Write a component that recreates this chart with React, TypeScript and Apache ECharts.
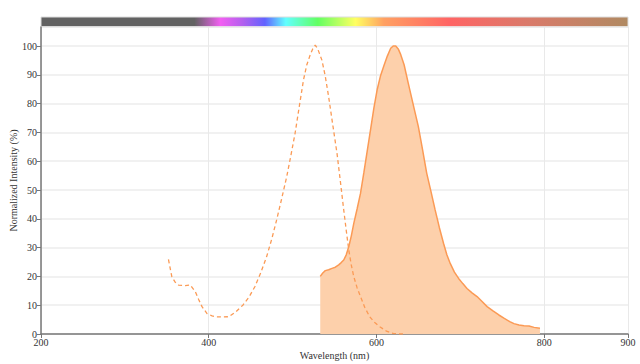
import React, { useEffect, useRef } from "react";
import * as echarts from "echarts";

const exWavelength = [352, 356, 360, 364, 372, 378, 384, 388, 392, 398, 404, 408, 416, 424, 432, 441, 448, 455, 462, 469, 475, 481, 487, 493, 498, 503, 508, 513, 517, 521, 524, 527, 530, 535, 539, 543, 548, 553, 557, 561, 564, 567, 570, 573, 577, 581, 586, 592, 598, 604, 612, 620, 628, 634];
const exValue = [25.9, 19.9, 18.0, 17.0, 16.8, 17.0, 14.7, 12.0, 9.5, 7.1, 6.3, 6.0, 5.9, 6.0, 7.6, 10.1, 12.8, 16.4, 21.2, 26.8, 32.8, 39.6, 47.0, 54.6, 62.0, 69.7, 79.0, 88.2, 93.5, 96.9, 99.0, 100.3, 99.0, 95.1, 89.5, 82.4, 72.5, 62.7, 53.0, 43.1, 36.0, 29.2, 24.0, 19.9, 16.0, 13.0, 9.3, 6.0, 4.0, 2.5, 1.0, 0.2, 0.0, 0.0];

const emWavelength = [533, 536, 539, 543, 547, 551, 555, 558, 561, 564, 567, 570, 573, 577, 581, 585, 589, 593, 597, 601, 605, 609, 613, 617, 620, 623, 626, 629, 633, 638, 644, 650, 655, 660, 665, 670, 675, 680, 684, 688, 693, 698, 703, 708, 714, 720, 726, 732, 739, 746, 752, 759, 764, 770, 776, 782, 788, 795];
const emValue = [20.0, 21.2, 22.0, 22.3, 22.8, 23.2, 24.0, 24.8, 25.7, 27.5, 30.3, 34.0, 38.4, 43.5, 48.8, 56.0, 63.5, 71.0, 78.5, 85.0, 89.8, 93.2, 96.5, 99.2, 100.0, 100.0, 99.0, 97.0, 93.5, 87.0, 79.5, 72.0, 64.0, 55.8, 49.5, 43.1, 37.0, 31.5, 27.5, 24.5, 21.5, 19.3, 17.5, 15.8, 14.3, 13.0, 11.3, 9.5, 8.0, 6.6, 5.5, 4.3, 3.6, 3.1, 2.9, 2.8, 2.3, 2.0];

const xTicks = [200, 400, 600, 800, 900];

const barStops = [
  { nm: 200, color: "#626262" },
  { nm: 383, color: "#626262" },
  { nm: 414, color: "#f25ef2" },
  { nm: 440, color: "#b460ee" },
  { nm: 467, color: "#6262ff" },
  { nm: 492, color: "#62ffff" },
  { nm: 530, color: "#62ff62" },
  { nm: 575, color: "#ffff62" },
  { nm: 609, color: "#ffa062" },
  { nm: 687, color: "#ff6464" },
  { nm: 780, color: "#da7a6a" },
  { nm: 900, color: "#b08a62" },
];

const FONT = "'Liberation Serif', 'Times New Roman', serif";
const FS = 10;

export default function App() {
  const ref = useRef<HTMLDivElement>(null);
  useEffect(() => {
    const chart = echarts.init(ref.current!, null, { renderer: "svg" });
    const left = 41, right = 12, top = 27, bottom = 30;
    const x0 = 200, x1 = 900;
    chart.setOption({
      animation: false,
      textStyle: { fontFamily: FONT },
      grid: { left, right, top, bottom, containLabel: false, outerBoundsMode: "none" },
      xAxis: {
        type: "value",
        min: x0,
        max: x1,
        interval: 200,
        name: "Wavelength (nm)",
        nameLocation: "middle",
        nameGap: 16,
        nameMoveOverlap: false,
        nameTextStyle: { fontFamily: FONT, fontSize: FS, color: "#333" },
        axisLine: { show: true, lineStyle: { color: "#777", width: 1.5 } },
        axisTick: { show: true, length: 4, lineStyle: { color: "#777" } },
        axisLabel: {
          fontFamily: FONT,
          fontSize: FS,
          color: "#333",
          margin: 3,
          showMaxLabel: true,
          formatter: (v: number) => (xTicks.includes(v) ? String(v) : ""),
        },
        splitLine: { show: true, lineStyle: { color: "#e9e9e9", width: 1 } },
      },
      yAxis: {
        type: "value",
        min: 0,
        max: 106.6,
        interval: 10,
        name: "Normalized Intensity (%)",
        nameLocation: "middle",
        nameGap: 23,
        nameMoveOverlap: false,
        nameTextStyle: { fontFamily: FONT, fontSize: FS, color: "#333" },
        axisLine: { show: true, lineStyle: { color: "#777", width: 1.5 } },
        axisTick: { show: true, length: 4, lineStyle: { color: "#777" } },
        axisLabel: {
          fontFamily: FONT,
          fontSize: FS,
          color: "#333",
          margin: 4,
          showMaxLabel: false,
          verticalAlign: "middle",
        },
        splitLine: { show: true, lineStyle: { color: "#ececec", width: 1.5 } },
      },
      graphic: [
        {
          type: "rect",
          shape: { x: left, y: 17, width: 640 - left - right, height: 10 },
          style: {
            fill: new echarts.graphic.LinearGradient(
              0, 0, 1, 0,
              barStops.map((s) => ({ offset: (s.nm - x0) / (x1 - x0), color: s.color }))
            ),
            stroke: "#dddddd",
            lineWidth: 1,
          },
        },
      ],
      series: [
        {
          type: "line",
          name: "Emission",
          data: emWavelength.map((w, i) => [w, emValue[i]]),
          showSymbol: false,
          lineStyle: { color: "#fb9a55", width: 1.5 },
          areaStyle: { color: "#fdd0ab", opacity: 1 },
          z: 2,
        },
        {
          type: "line",
          name: "Excitation",
          data: exWavelength.map((w, i) => [w, exValue[i]]),
          showSymbol: false,
          lineStyle: { color: "#fb9a55", width: 1.3, type: [4, 3] },
          z: 3,
        },
      ],
    });
    return () => chart.dispose();
  }, []);
  return <div ref={ref} style={{ width: 640, height: 364, position: "absolute", left: 0, top: 0 }} />;
}
